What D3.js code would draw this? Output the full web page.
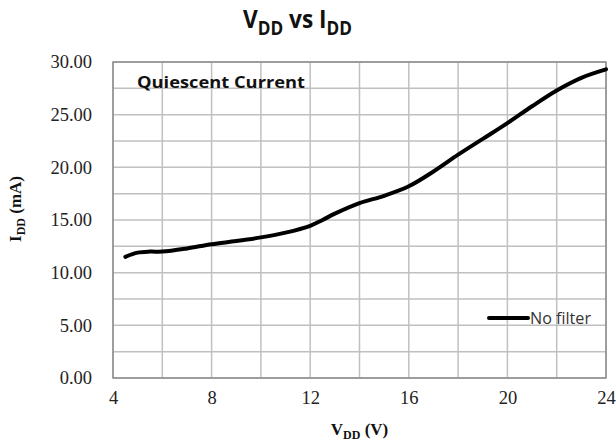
<!DOCTYPE html>
<html>
<head>
<meta charset="utf-8">
<script src="https://cdn.jsdelivr.net/npm/d3@7"></script>
<style>
  body { margin: 0; background: #fff; }
  svg { display: block; }
</style>
</head>
<body>
<div id="chart"></div>
<script>
// supply voltage (V) and quiescent current (mA)
var vdd = [4.5, 5, 5.5, 6, 7, 8, 9, 10, 11, 12, 12.5, 13, 14, 15, 16, 17, 18, 19, 20, 21, 22, 23, 24];
var idd = [11.5, 11.9, 12.0, 12.0, 12.3, 12.7, 13.0, 13.35, 13.8, 14.45, 15.0, 15.6, 16.6, 17.3, 18.2, 19.6, 21.2, 22.7, 24.2, 25.8, 27.3, 28.5, 29.3];
var xTicks = [4, 8, 12, 16, 20, 24];
var yTicks = [0, 5, 10, 15, 20, 25, 30];
var seriesName = "No filter";

var width = 616, height = 441;
var margin = {top: 62, right: 10, bottom: 63, left: 113};

var svg = d3.select("#chart").append("svg")
    .attr("width", width)
    .attr("height", height);

var x = d3.scaleLinear().domain([4, 24]).range([margin.left, width - margin.right]);
var y = d3.scaleLinear().domain([0, 30]).range([height - margin.bottom, margin.top]);

// gridlines
var grid = svg.append("g").attr("class", "grid");
grid.selectAll("line.v")
    .data(d3.range(4, 24.01, 2))
    .enter().append("line")
    .attr("x1", function(d){ return x(d); })
    .attr("x2", function(d){ return x(d); })
    .attr("y1", y(0))
    .attr("y2", y(30))
    .attr("stroke", "#c0c0c0")
    .attr("stroke-width", 1.5);

grid.selectAll("line.h")
    .data(d3.range(0, 30.01, 2.5))
    .enter().append("line")
    .attr("x1", x(4))
    .attr("x2", x(24))
    .attr("y1", function(d){ return y(d); })
    .attr("y2", function(d){ return y(d); })
    .attr("stroke", "#c0c0c0")
    .attr("stroke-width", 1.5);

svg.append("rect")
    .attr("x", x(4))
    .attr("y", y(30))
    .attr("width", x(24) - x(4))
    .attr("height", y(0) - y(30))
    .attr("fill", "none")
    .attr("stroke", "#8c8c8c")
    .attr("stroke-width", 1.5);

// axes (labels only)
var xAxis = svg.append("g")
    .attr("transform", "translate(0," + y(0) + ")")
    .call(d3.axisBottom(x).tickValues(xTicks).tickSize(0).tickPadding(13));
var yAxis = svg.append("g")
    .attr("transform", "translate(" + x(4) + ",0)")
    .call(d3.axisLeft(y).tickValues(yTicks).tickSize(0).tickPadding(21).tickFormat(d3.format(".2f")));

[xAxis, yAxis].forEach(function(a){
  a.select(".domain").remove();
  a.selectAll("text")
    .style("font-family", "'Liberation Serif', 'Times New Roman', serif")
    .style("font-size", "18.5px")
    .attr("fill", "#222");
});

// the curve
var pts = vdd.map(function(v, i){ return [v, idd[i]]; });
var line = d3.line()
    .x(function(d){ return x(d[0]); })
    .y(function(d){ return y(d[1]); })
    .curve(d3.curveCatmullRom.alpha(0.5));

svg.append("path")
    .datum(pts)
    .attr("d", line)
    .attr("fill", "none")
    .attr("stroke", "#000")
    .attr("stroke-width", 4)
    .attr("stroke-linecap", "round");

// title, squeezed to the narrow width of the original face
var titleG = svg.append("g");
var title = titleG.append("text")
    .attr("x", 0)
    .attr("y", 0)
    .style("font-family", "'Open Sans', 'Noto Sans', sans-serif")
    .style("font-weight", "bold")
    .style("font-size", "25px")
    .attr("fill", "#111");
title.append("tspan").text("V");
title.append("tspan").text("DD").attr("dy", 7).style("font-size", "19px");
title.append("tspan").text(" vs I").attr("dy", -7);
title.append("tspan").text("DD").attr("dy", 7).style("font-size", "19px");
var tb = title.node().getBBox();
var sx = 109 / tb.width;
titleG.attr("transform", "translate(243,28) scale(" + sx + ",1)");

// annotation
svg.append("text")
    .attr("x", 137)
    .attr("y", 88)
    .text("Quiescent Current")
    .style("font-family", "'Open Sans', 'Noto Sans', sans-serif")
    .style("font-weight", "bold")
    .style("font-size", "16px")
    .attr("textLength", 168)
    .attr("lengthAdjust", "spacingAndGlyphs")
    .attr("fill", "#111");

// axis titles
var xt = svg.append("text")
    .attr("x", (x(4) + x(24)) / 2)
    .attr("y", 435)
    .attr("text-anchor", "middle")
    .style("font-family", "'Liberation Serif', 'Times New Roman', serif")
    .style("font-weight", "bold")
    .style("font-size", "17px")
    .attr("fill", "#111");
xt.append("tspan").text("V");
xt.append("tspan").text("DD").attr("dy", 4).style("font-size", "12px");
xt.append("tspan").text(" (V)").attr("dy", -4);

var yt = svg.append("text")
    .attr("transform", "translate(21," + ((y(0) + y(30)) / 2 - 11) + ") rotate(-90)")
    .attr("text-anchor", "middle")
    .style("font-family", "'Liberation Serif', 'Times New Roman', serif")
    .style("font-weight", "bold")
    .style("font-size", "17px")
    .attr("fill", "#111");
yt.append("tspan").text("I");
yt.append("tspan").text("DD").attr("dy", 4).style("font-size", "12px");
yt.append("tspan").text(" (mA)").attr("dy", -4);

// legend
var legend = svg.append("g").attr("transform", "translate(489,318)");
legend.append("line")
    .attr("x1", 0).attr("x2", 39)
    .attr("y1", 0).attr("y2", 0)
    .attr("stroke", "#000")
    .attr("stroke-width", 4)
    .attr("stroke-linecap", "round");
legend.append("text")
    .attr("x", 41)
    .attr("y", 6)
    .text(seriesName)
    .style("font-family", "'Open Sans', 'Noto Sans', sans-serif")
    .style("font-size", "16px")
    .attr("textLength", 61)
    .attr("lengthAdjust", "spacingAndGlyphs")
    .attr("fill", "#333");
</script>
</body>
</html>
